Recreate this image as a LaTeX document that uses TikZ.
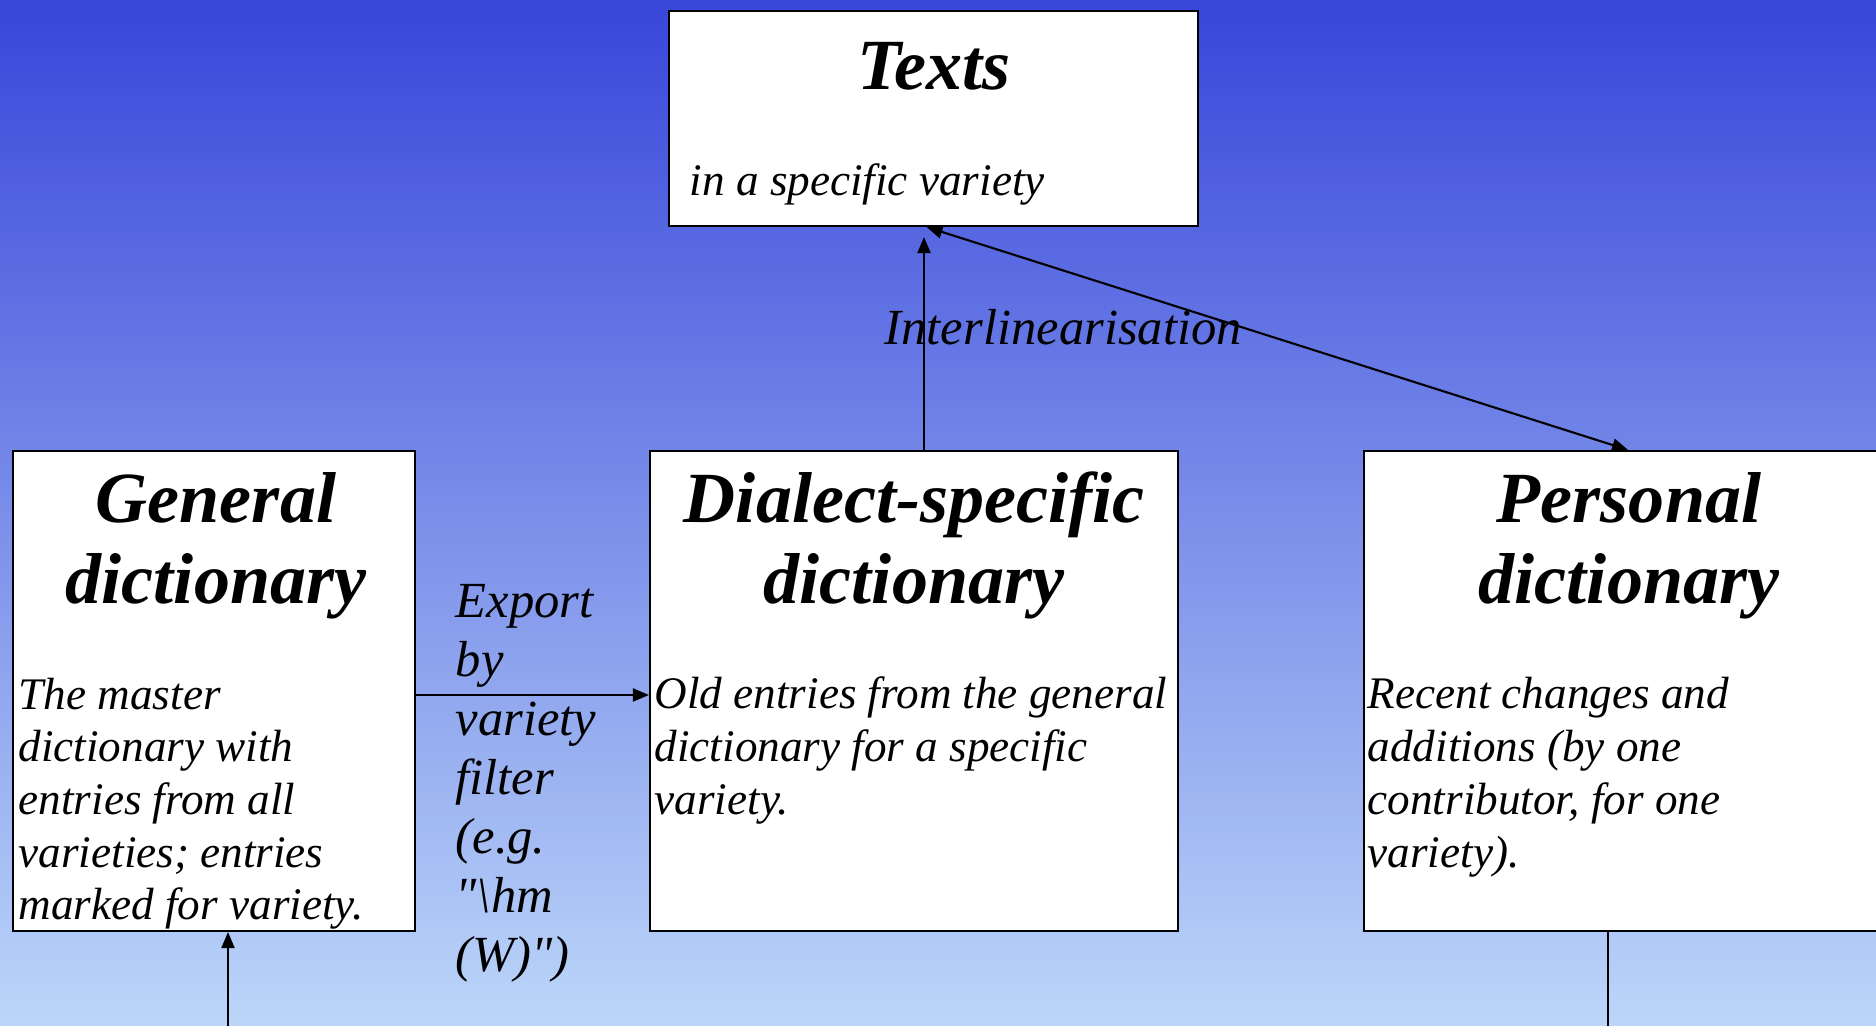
\documentclass[tikz,border=0pt]{standalone}
\usepackage{fontspec}
\setmainfont{Liberation Serif}[Ligatures=TeXOff]
\usepackage{xcolor}
\usepackage{tikz}
\usetikzlibrary{arrows.meta}

\definecolor{bgtop}{RGB}{56,70,218}
\definecolor{bgbottom}{RGB}{188,214,249}

\tikzset{
  dictbox/.style={draw=black, line width=0.6pt, fill=white, inner sep=0pt},
  boxtitle/.style={anchor=base, inner sep=0pt, font=\fontsize{20.5}{23}\selectfont\bfseries\itshape},
  boxbody/.style={anchor=base west, inner sep=0pt, align=left, font=\fontsize{12.85}{15}\selectfont\itshape},
  arrlabel/.style={anchor=base west, inner sep=0pt, align=left, font=\fontsize{14.4}{16.8}\selectfont\itshape},
  conn/.style={line width=0.6pt},
  arr/.style={conn, -{Triangle[length=1.6mm,width=1.3mm]}},
  arrboth/.style={conn, {Triangle[length=1.6mm,width=1.3mm]}-{Triangle[length=1.6mm,width=1.3mm]}}
}

\begin{document}
\begin{tikzpicture}

\useasboundingbox (0,0) rectangle (18.76,10.26);
\shade[top color=bgtop, bottom color=bgbottom] (0,0) rectangle (18.76,10.26);

\node[dictbox, minimum width=5.29cm, minimum height=2.15cm] (texts) at (9.335,9.075) {};
\node[dictbox, minimum width=4.02cm, minimum height=4.80cm] (gen) at (2.14,3.35) {};
\node[dictbox, minimum width=5.28cm, minimum height=4.80cm] (dial) at (9.14,3.35) {};
\node[dictbox, minimum width=5.28cm, minimum height=4.80cm] (pers) at (16.28,3.35) {};

% titles and descriptions (base of a multi-line node = its last line)
\node[boxtitle] (textstitle) at (9.34,9.36) {Texts};
\node[boxbody] (textsbody) at (6.89,8.30) {in a specific variety};

\node[boxtitle] (gentitle) at (2.16,5.03) {General};
\node[boxtitle] (gentitle2) at (2.16,4.22) {dictionary};
\node[boxbody] (genbody) at (0.18,1.06) {The master\\dictionary with\\entries from all\\varieties; entries\\marked for variety.};

\node[boxtitle] (dialtitle) at (9.14,5.03) {Dialect-specific};
\node[boxtitle] (dialtitle2) at (9.14,4.22) {dictionary};
\node[boxbody] (dialbody) at (6.54,2.116) {Old entries from the general\\dictionary for a specific\\variety.};

\node[boxtitle] (perstitle) at (16.29,5.03) {Personal};
\node[boxtitle] (perstitle2) at (16.29,4.22) {dictionary};
\node[boxbody] (persbody) at (13.67,1.589) {Recent changes and\\additions (by one\\contributor, for one\\variety).};

\node[arrlabel] (exportlbl) at (4.55,0.547) {Export\\by\\variety\\filter\\(e.g.\\"\textbackslash hm\\(W)")};
\node[arrlabel] (interlbl) at (8.84,6.81) {Interlinearisation};

\draw[arr] ([yshift=-0.04cm]gen.east) -- ([yshift=-0.04cm]dial.west);

\draw[arr, shorten >=0.1cm] ([xshift=1mm]dial.north) -- ([xshift=1mm]dial.north |- texts.south);

\draw[arrboth] ([xshift=-0.07cm]texts.south) -- (pers.north);

\coordinate (genin) at (2.28,-0.2);
\draw[arr] (genin) -- (genin |- gen.south);

\coordinate (persout) at (16.08,-0.2);
\draw[conn] (persout |- pers.south) -- (persout);

\end{tikzpicture}
\end{document}
